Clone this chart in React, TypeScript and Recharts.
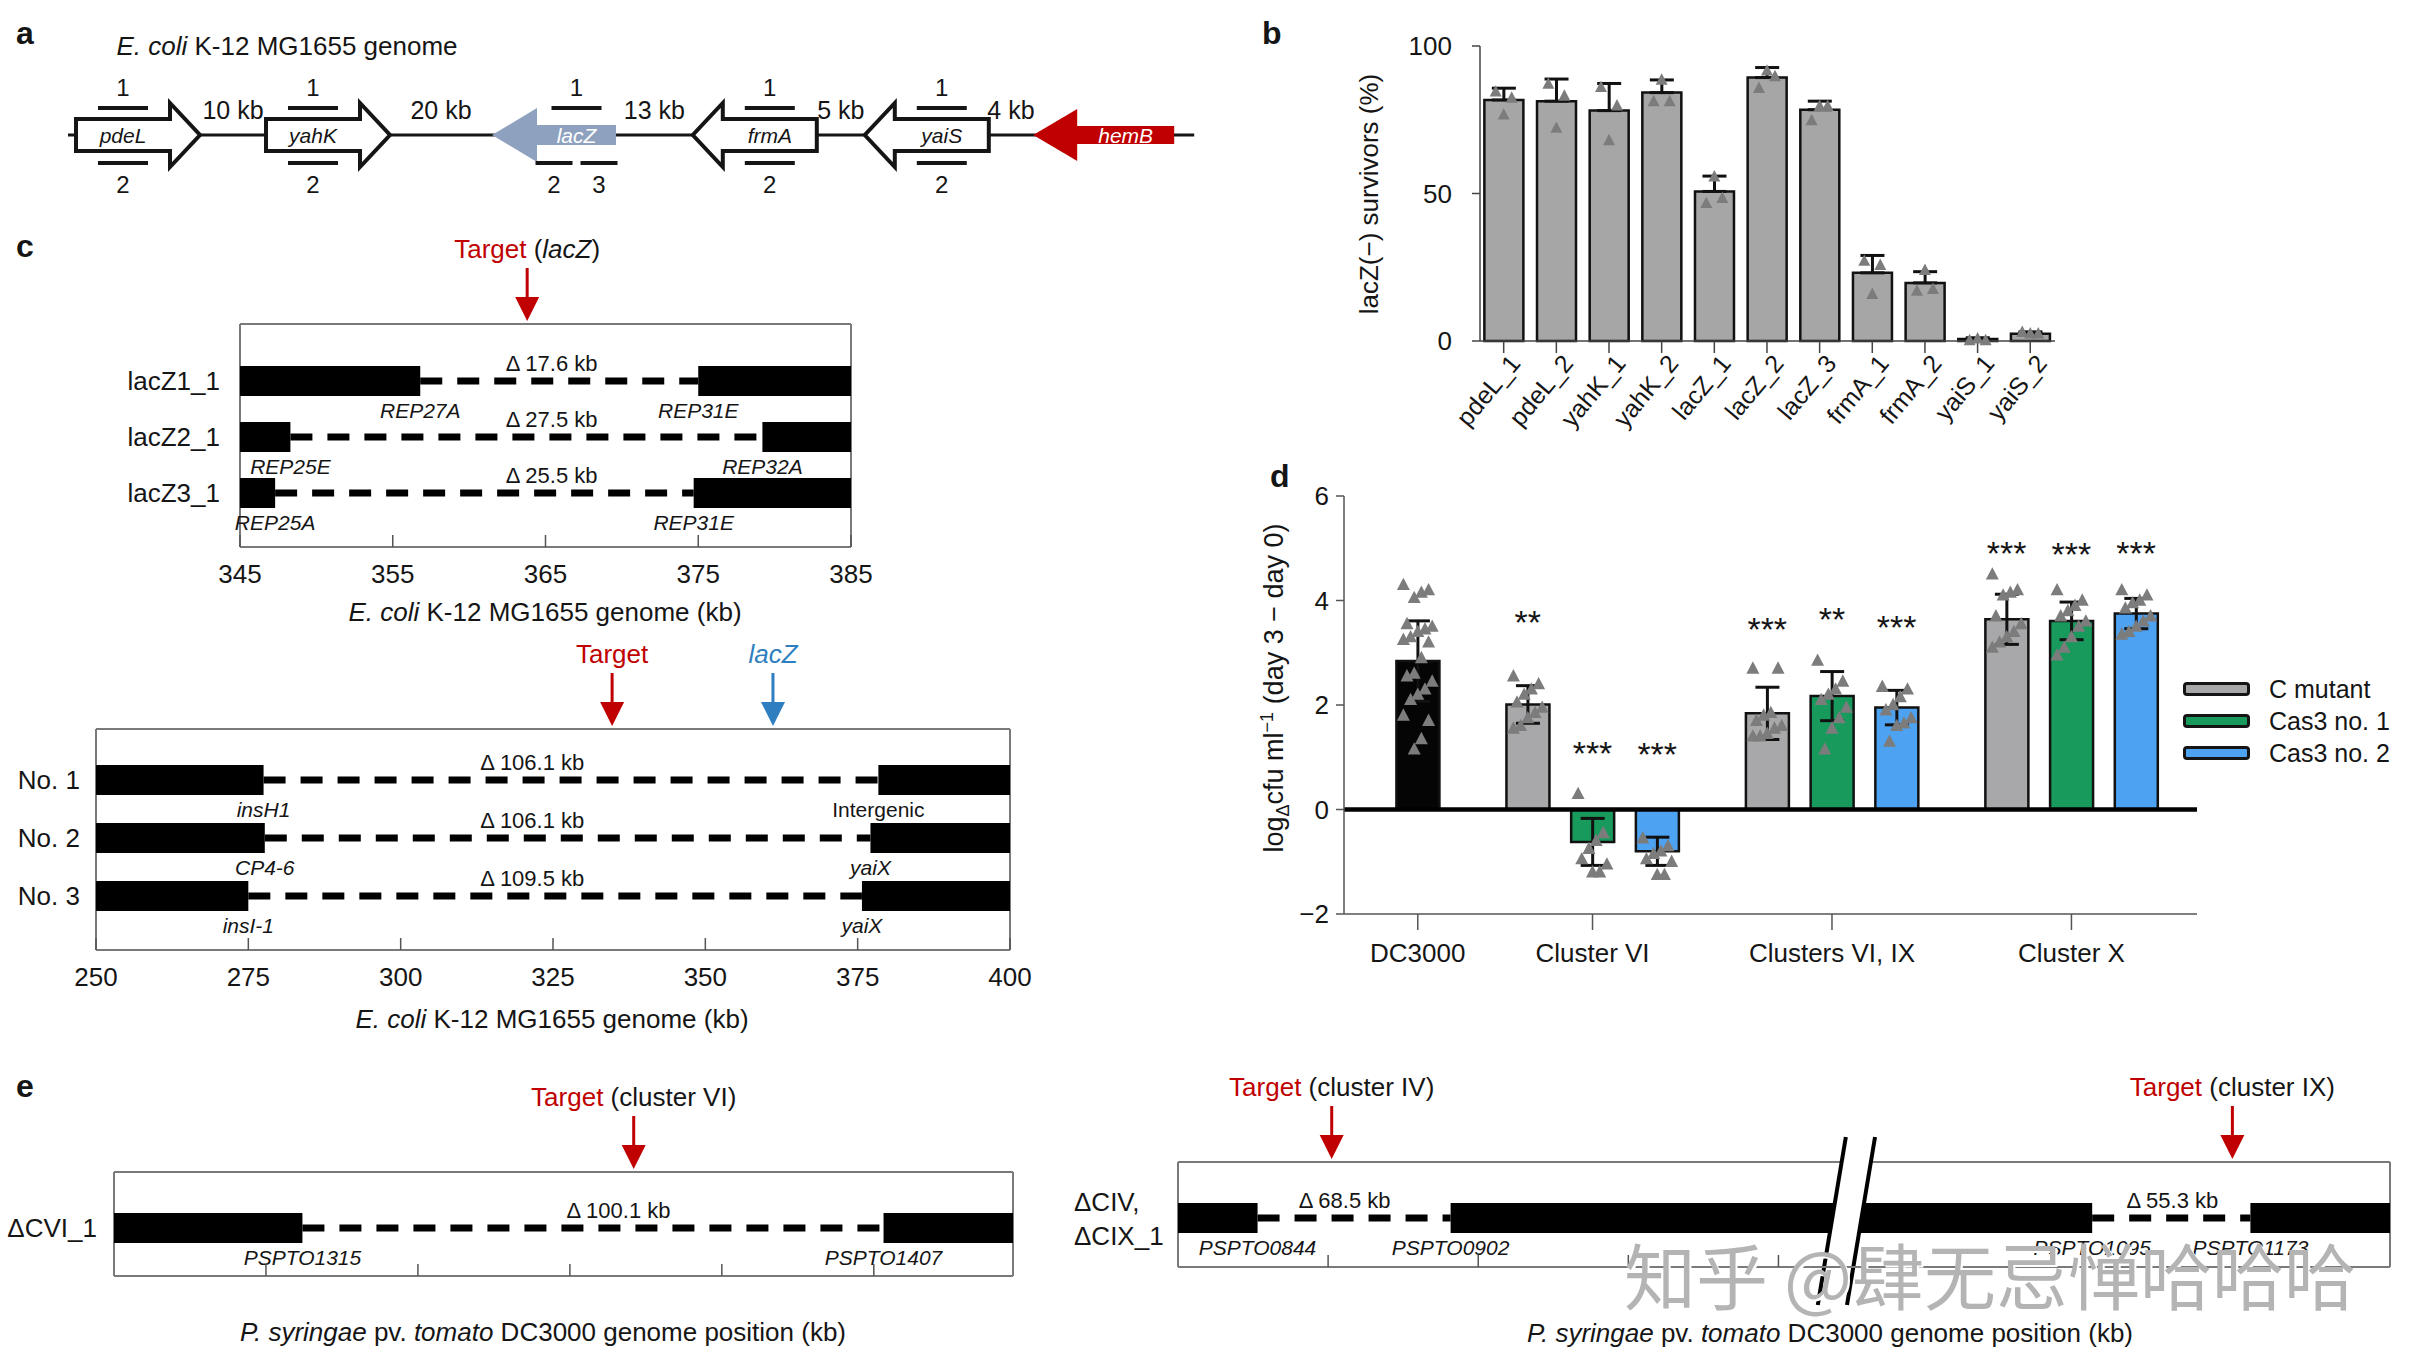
import React from "react";
import {
  ComposedChart,
  Bar,
  Scatter,
  XAxis,
  YAxis,
  ErrorBar,
  Cell,
  ReferenceLine,
  CartesianGrid,
  Legend,
} from "recharts";

const FONT = '"Liberation Sans", Arial, Helvetica, sans-serif';
const INK = "#151515";
const RED = "#c00000";
const BLUE = "#2f7fc0";
const BOX = "#7a7a7a";
const DOT = "#7c7c7c";

// ---- panel a: gene map ----
const geneNames = ["pdeL", "yahK", "lacZ", "frmA", "yaiS", "hemB"];
const geneStrand = [1, 1, -1, -1, -1, -1];
const geneGuides = [["1", "2"], ["1", "2"], ["1", "2", "3"], ["1", "2"], ["1", "2"], []];
const spacerKb = [10, 20, 13, 5, 4];

// ---- panel b: lacZ(-) survivors ----
const survivalStrains = ["pdeL_1", "pdeL_2", "yahK_1", "yahK_2", "lacZ_1", "lacZ_2", "lacZ_3", "frmA_1", "frmA_2", "yaiS_1", "yaiS_2"];
const survivalMean = [81.7, 81.3, 78.1, 84.2, 50.7, 89.3, 78.4, 23.1, 19.7, 0.7, 2.5];
const survivalSd = [4.0, 7.5, 9.2, 4.3, 5.2, 3.4, 2.9, 5.9, 3.8, 0.4, 0.6];
const survivalReps = [
  [84.5, 82.4, 76.7],
  [87.1, 83.1, 72.2],
  [86.0, 79.8, 68.0],
  [81.2, 81.2, 88.5],
  [46.7, 48.4, 55.7],
  [85.7, 89.7, 91.6],
  [74.8, 79.6, 79.6],
  [27.1, 25.7, 15.9],
  [17.0, 17.6, 24.0],
  [0.2, 0.2, 0.8],
  [3.0, 2.5, 2.5],
];

// ---- panel d: in planta growth ----
const infectionGroups = ["DC3000", "Cluster VI", "Clusters VI, IX", "Cluster X"];
const strainSeries = ["C mutant", "Cas3 no. 1", "Cas3 no. 2"];
const wildTypeMean = 2.84;
const wildTypeSd = 0.77;
const wildTypeReps = [4.3, 4.2, 4.15, 4.05, 3.55, 3.5, 3.45, 3.4, 3.3, 3.25, 3.2, 2.9, 2.6, 2.55, 2.45, 2.3, 2.2, 2.1, 1.8, 1.7, 1.35, 1.15];
// rows = cluster groups, columns = strainSeries
const mutantMean = [
  [2.01, -0.62, -0.8],
  [1.84, 2.17, 1.95],
  [3.64, 3.61, 3.75],
];
const mutantSd = [
  [0.36, 0.45, 0.27],
  [0.5, 0.47, 0.33],
  [0.48, 0.36, 0.29],
];
const mutantReps = [
  [
    [2.55, 2.4, 2.3, 2.2, 2.05, 1.95, 1.85, 1.75, 1.6, 1.55],
    [0.3, -0.45, -0.6, -0.75, -0.95, -1.05, -1.2, -1.2],
    [-0.55, -0.7, -0.8, -0.85, -0.95, -1.0, -1.25, -1.25],
  ],
  [
    [2.7, 2.7, 1.85, 1.8, 1.7, 1.6, 1.55, 1.45, 1.4, 1.4],
    [2.85, 2.45, 2.3, 2.2, 2.1, 1.95, 1.75, 1.55, 1.15],
    [2.35, 2.3, 2.15, 2.0, 1.9, 1.75, 1.65, 1.6, 1.3],
  ],
  [
    [4.5, 4.2, 4.15, 4.1, 3.7, 3.55, 3.4, 3.3, 3.2, 3.1],
    [4.2, 4.0, 3.9, 3.8, 3.7, 3.6, 3.5, 3.3, 3.1, 2.95],
    [4.2, 4.1, 4.0, 3.95, 3.85, 3.7, 3.6, 3.5, 3.4, 3.35],
  ],
];
const mutantStars = [
  ["**", "***", "***"],
  ["***", "**", "***"],
  ["***", "***", "***"],
];
const starLevel = [
  [3.72, 1.22, 1.19],
  [3.59, 3.78, 3.63],
  [5.05, 5.03, 5.05],
];

// ---- panel c: lacZ deletions ----
const lacZStrains = ["lacZ1_1", "lacZ2_1", "lacZ3_1"];
const lacZLeftEnd = [356.8, 348.3, 347.3];
const lacZRightStart = [375.0, 379.2, 374.7];
const lacZDeleted = ["17.6", "27.5", "25.5"];
const lacZLeftGene = ["REP27A", "REP25E", "REP25A"];
const lacZRightGene = ["REP31E", "REP32A", "REP31E"];
const lacZWindow = [345, 385];
const lacZTicks = [345, 355, 365, 375, 385];

const wideStrains = ["No. 1", "No. 2", "No. 3"];
const wideLeftEnd = [277.5, 277.7, 275.0];
const wideRightStart = [378.4, 377.1, 375.7];
const wideDeleted = ["106.1", "106.1", "109.5"];
const wideLeftGene = ["insH1", "CP4-6", "insI-1"];
const wideRightGene = ["Intergenic", "yaiX", "yaiX"];
const wideWindow = [250, 400];
const wideTicks = [250, 275, 300, 325, 350, 375, 400];

// ---- panel e: P. syringae deletions ----
const cviWindow = [0, 147.9];
const cviTicks = [25, 50, 75, 100, 125];
const cviBlocks = [[0, 31.0], [126.6, 147.9]];
const cviDeleted = ["100.1"];
const cviGenes = ["PSPTO1315", "PSPTO1407"];

const civWindow = [0, 403.7];
const civTicks = [50, 100, 150, 200];
const civBlocks = [[0, 26.5], [90.8, 304.5], [357.2, 403.7]];
const civDeleted = ["68.5", "55.3"];
const civGenes = ["PSPTO0844", "PSPTO0902", "PSPTO1095", "PSPTO1173"];
const civBreak = 223;

// ---------------- helpers ----------------
const Txt = ({ x, y, size = 25, anchor = "middle", rotate = 0, bold = false, color = INK, children, style }: any) => {
  const tx = anchor === "middle" ? "-50%" : anchor === "end" ? "-100%" : "0%";
  return (
    <div
      style={{
        position: "absolute",
        left: x,
        top: y,
        transform: `translate(${tx}, -50%) rotate(${rotate}deg)`,
        fontSize: size,
        fontWeight: bold ? 700 : 400,
        color,
        whiteSpace: "nowrap",
        lineHeight: 1,
        ...style,
      }}
    >
      {children}
    </div>
  );
};

const tri = (cx: number, cy: number, s: number, fill: string) => (
  <path d={`M${cx},${cy - s * 0.55} L${cx + s / 2},${cy + s * 0.4} L${cx - s / 2},${cy + s * 0.4} Z`} fill={fill} />
);

// ---------------- panel a ----------------
const GENE_STYLE: any = {
  default: { len: 124, fill: "#fff", stroke: INK, text: INK, bodyH: 16, headH: 32, headL: 30 },
  lacZ: { len: 124, fill: "#8ea2bf", stroke: "none", text: "#fff", bodyH: 10, headH: 27, headL: 45 },
  hemB: { len: 141, fill: "#c00000", stroke: "none", text: "#fff", bodyH: 9, headH: 26, headL: 44 },
};
const geneStyle = (name: string) => GENE_STYLE[name] || GENE_STYLE.default;

const GeneArrow = (p: any) => {
  const { cx, cy, payload: g } = p;
  const st = geneStyle(g.name);
  const s = g.strand;
  const half = st.len / 2;
  const tail = cx - s * half;
  const tip = cx + s * half;
  const base = tip - s * st.headL;
  const b = st.bodyH;
  const h = st.headH;
  const d = `M${tail},${cy - b} L${base},${cy - b} L${base},${cy - h} L${tip},${cy} L${base},${cy + h} L${base},${cy + b} L${tail},${cy + b} Z`;
  const mid = (tail + base) / 2;
  const [top, ...bottom] = g.guides;
  return (
    <g>
      <path d={d} fill={st.fill} stroke={st.stroke} strokeWidth={st.stroke === "none" ? 0 : 4} />
      <text x={mid} y={cy} textAnchor="middle" dominantBaseline="central" fontSize={21} fontStyle="italic" fill={st.text}>
        {g.name}
      </text>
      {top && (
        <g>
          <line x1={mid - 25} x2={mid + 25} y1={cy - 27} y2={cy - 27} stroke={INK} strokeWidth={4} />
          <text x={mid} y={cy - 48} textAnchor="middle" dominantBaseline="central" fontSize={24} fill={INK}>
            {top}
          </text>
        </g>
      )}
      {bottom.map((lab: string, i: number) => {
        const w = bottom.length > 1 ? 37 : 50;
        const c = mid + (i - (bottom.length - 1) / 2) * 45;
        return (
          <g key={lab}>
            <line x1={c - w / 2} x2={c + w / 2} y1={cy + 28} y2={cy + 28} stroke={INK} strokeWidth={4} />
            <text x={c} y={cy + 49} textAnchor="middle" dominantBaseline="central" fontSize={24} fill={INK}>
              {lab}
            </text>
          </g>
        );
      })}
    </g>
  );
};

const SpacerLabel = (p: any) => (
  <text x={p.cx} y={p.cy - 25} textAnchor="middle" dominantBaseline="central" fontSize={25} fill={INK}>
    {p.payload.label}
  </text>
);

const GeneMap = () => {
  const genes: any[] = [];
  const spacers: any[] = [];
  let left = 76;
  geneNames.forEach((name, i) => {
    const len = geneStyle(name).len;
    genes.push({ x: left + len / 2, y: 0, name, strand: geneStrand[i], guides: geneGuides[i] });
    const right = left + len;
    if (i < spacerKb.length) {
      const gap = 30 + 3.6 * spacerKb[i];
      spacers.push({ x: right + gap / 2, y: 0, label: `${spacerKb[i]} kb` });
      left = right + gap;
    } else {
      left = right;
    }
  });
  const trackStart = 76 - 8;
  const trackEnd = left + 20;
  return (
    <div style={{ position: "absolute", left: 0, top: 55 }}>
      <ComposedChart width={1250} height={160} margin={{ top: 0, right: 0, bottom: 0, left: 0 }}>
        <XAxis type="number" dataKey="x" domain={[0, 1250]} hide />
        <YAxis type="number" domain={[-1, 1]} hide />
        <ReferenceLine segment={[{ x: trackStart, y: 0 }, { x: trackEnd, y: 0 }]} stroke={INK} strokeWidth={3} />
        <Scatter data={genes} dataKey="y" shape={GeneArrow} isAnimationActive={false} />
        <Scatter data={spacers} dataKey="y" shape={SpacerLabel} isAnimationActive={false} />
      </ComposedChart>
    </div>
  );
};

// ---------------- panel b ----------------
const survivalData = survivalStrains.map((strain, i) => ({ x: i, strain, value: survivalMean[i], err: [0, survivalSd[i]] }));
const survivalPoints = survivalReps.flatMap((reps, i) => reps.map((v, k) => ({ x: i, y: v, k })));
const JITTER_B = [-8, 8, 0];

const RotTick = (p: any) => {
  const ax = p.x + 18;
  const ay = p.y + 9;
  return (
    <text x={ax} y={ay} transform={`rotate(-50 ${ax} ${ay})`} textAnchor="end" fontSize={25} fill={INK}>
      {survivalStrains[p.payload.value]}
    </text>
  );
};

const SurvivalChart = () => (
  <div style={{ position: "absolute", left: 1290, top: 0 }}>
    <ComposedChart width={790} height={520} data={survivalData} margin={{ top: 46, right: 25, left: 0, bottom: 29 }}>
      <XAxis
        type="number"
        dataKey="x"
        domain={[-0.45, 10.47]}
        ticks={survivalStrains.map((_, i) => i)}
        interval={0}
        height={150}
        tickSize={12}
        axisLine={{ stroke: "#444", strokeWidth: 1.5 }}
        tickLine={{ stroke: "#444", strokeWidth: 1.5 }}
        tick={RotTick}
      />
      <YAxis
        type="number"
        domain={[0, 100]}
        ticks={[0, 50, 100]}
        width={190}
        tickSize={8}
        tickMargin={20}
        axisLine={{ stroke: "#444", strokeWidth: 1.5 }}
        tickLine={{ stroke: "#444", strokeWidth: 1.5 }}
        tick={{ fontSize: 26, fill: INK }}
      />
      <Bar dataKey="value" barSize={39} fill="#a6a6a6" stroke="#111" strokeWidth={2.5} isAnimationActive={false}>
        <ErrorBar dataKey="err" width={12} stroke="#111" strokeWidth={3} />
      </Bar>
      <Scatter
        data={survivalPoints}
        dataKey="y"
        isAnimationActive={false}
        shape={(p: any) => tri(p.cx + JITTER_B[p.payload.k % 3], p.cy, 12, DOT)}
      />
    </ComposedChart>
  </div>
);

// ---------------- panel d ----------------
const GROUP_GAP = 0.7;
const seriesColor: any = { wt: "#050505", "C mutant": "#a8a8aa", "Cas3 no. 1": "#189a5c", "Cas3 no. 2": "#4ea2f2" };

const infBars: any[] = [];
const groupTicks: number[] = [];
(() => {
  let slot = 0;
  infBars.push({ x: slot, mean: wildTypeMean, err: [wildTypeSd, wildTypeSd], color: seriesColor.wt, reps: wildTypeReps });
  groupTicks.push(slot);
  slot += 1 + GROUP_GAP;
  mutantMean.forEach((row, g) => {
    const first = slot;
    row.forEach((m, s) => {
      infBars.push({
        x: slot,
        mean: m,
        err: [mutantSd[g][s], mutantSd[g][s]],
        color: seriesColor[strainSeries[s]],
        reps: mutantReps[g][s],
        stars: mutantStars[g][s],
        starAt: starLevel[g][s],
      });
      slot += 1;
    });
    groupTicks.push((first + slot - 1) / 2);
    slot += GROUP_GAP;
  });
})();
const infPoints = infBars.flatMap((b) => b.reps.map((v: number, k: number) => ({ x: b.x, y: v, k })));
const starRows = infBars.filter((b) => b.stars).map((b) => ({ x: b.x, y: b.starAt, label: b.stars }));
const jitterD = (k: number) => (((k * 7) % 9) - 4) * 3.6;

const InfLegend = () => (
  <div>
    {strainSeries.map((s) => (
      <div key={s} style={{ display: "flex", alignItems: "center", height: 32 }}>
        <div
          style={{
            width: 61,
            height: 8,
            border: `3px solid ${INK}`,
            borderRadius: 4,
            background: seriesColor[s],
            marginRight: 19,
          }}
        />
        <span style={{ fontSize: 25, color: INK, lineHeight: 1 }}>{s}</span>
      </div>
    ))}
  </div>
);

const InfectionChart = () => (
  <div style={{ position: "absolute", left: 1240, top: 440 }}>
    <ComposedChart width={1177} height={560} data={infBars} margin={{ top: 56, right: 220, left: 0, bottom: 10 }}>
      <XAxis
        type="number"
        dataKey="x"
        domain={[-1.14, 12.04]}
        ticks={groupTicks}
        interval={0}
        tickFormatter={(v: number) => infectionGroups[groupTicks.indexOf(v)] || ""}
        height={76}
        tickSize={16}
        tickMargin={14}
        axisLine={{ stroke: "#555", strokeWidth: 1.5 }}
        tickLine={{ stroke: "#555", strokeWidth: 1.5 }}
        tick={{ fontSize: 26, fill: INK }}
      />
      <YAxis
        type="number"
        domain={[-2, 6]}
        ticks={[-2, 0, 2, 4, 6]}
        tickFormatter={(v: number) => (v < 0 ? `\u2212${-v}` : `${v}`)}
        width={104}
        tickSize={8}
        tickMargin={7}
        axisLine={{ stroke: "#555", strokeWidth: 1.5 }}
        tickLine={{ stroke: "#555", strokeWidth: 1.5 }}
        tick={{ fontSize: 26, fill: INK }}
      />
      <Bar dataKey="mean" barSize={43} stroke="#111" strokeWidth={2.5} isAnimationActive={false}>
        {infBars.map((b, i) => (
          <Cell key={i} fill={b.color} />
        ))}
        <ErrorBar dataKey="err" width={12} stroke="#111" strokeWidth={3} />
      </Bar>
      <ReferenceLine y={0} stroke="#000" strokeWidth={4.5} />
      <Scatter
        data={infPoints}
        dataKey="y"
        isAnimationActive={false}
        shape={(p: any) => tri(p.cx + jitterD(p.payload.k), p.cy, 13, DOT)}
      />
      <Scatter
        data={starRows}
        dataKey="y"
        isAnimationActive={false}
        shape={(p: any) => (
          <text x={p.cx} y={p.cy + 19} textAnchor="middle" fontSize={34} fill={INK}>
            {p.payload.label}
          </text>
        )}
      />
      <Legend
        layout="vertical"
        align="center"
        verticalAlign="middle"
        content={InfLegend}
        wrapperStyle={{ left: 943, top: 233, width: 240 }}
      />
    </ComposedChart>
  </div>
);

// ---------------- panels c, e: deletion maps ----------------
const RowShape = (p: any) => {
  const { x, y, width, height, payload } = p;
  if (width == null || !payload) return null;
  const [d0, d1] = payload.span;
  const px = (v: number) => x + ((v - d0) / (d1 - d0)) * width;
  const cy = y + height / 2;
  const blocks = payload.blocks;
  const anchors: number[] = [];
  blocks.slice(1).forEach((b: number[], i: number) => anchors.push(blocks[i][1], b[0]));
  return (
    <g>
      {blocks.slice(1).map((b: number[], i: number) => (
        <line key={"g" + i} x1={px(blocks[i][1])} x2={px(b[0])} y1={cy} y2={cy} stroke="#000" strokeWidth={7} strokeDasharray="22 15" />
      ))}
      {blocks.map((b: number[], i: number) => (
        <rect key={"b" + i} x={px(b[0])} y={y} width={px(b[1]) - px(b[0])} height={height} fill="#000" />
      ))}
      {payload.deleted.map((d: string, i: number) => (
        <text key={"d" + i} x={px(payload.deltaAt[i])} y={cy - 18} textAnchor="middle" dominantBaseline="central" fontSize={22} fill={INK}>
          {"\u0394 " + d + " kb"}
        </text>
      ))}
      {payload.genes.map((gname: string, i: number) => (
        <text
          key={"n" + i}
          x={px(anchors[i])}
          y={cy + 29}
          textAnchor="middle"
          dominantBaseline="central"
          fontSize={21}
          fontStyle={gname === "Intergenic" ? "normal" : "italic"}
          fill={INK}
        >
          {gname}
        </text>
      ))}
    </g>
  );
};

const TargetMark = (p: any) => {
  const { x1, y1, y2, t } = p;
  const top = Math.min(y1, y2);
  const color = t.kind === "lacZ" ? BLUE : RED;
  return (
    <g>
      <line x1={x1} x2={x1} y1={top - 56} y2={top - 22} stroke={color} strokeWidth={3} />
      <path d={`M${x1 - 12},${top - 27} L${x1 + 12},${top - 27} L${x1},${top - 3} Z`} fill={color} />
      <text x={x1} y={top - 75} textAnchor="middle" dominantBaseline="central" fontSize={26} fill={INK}>
        {t.kind === "lacZ" ? (
          <tspan fill={BLUE} fontStyle="italic">
            lacZ
          </tspan>
        ) : (
          <>
            <tspan fill={RED}>Target</tspan>
            {t.note ? <tspan>{" ("}</tspan> : null}
            {t.note ? <tspan fontStyle={t.italic ? "italic" : "normal"}>{t.note}</tspan> : null}
            {t.note ? <tspan>{")"}</tspan> : null}
          </>
        )}
      </text>
    </g>
  );
};

const BreakMark = (p: any) => {
  const { x1, y1, y2 } = p;
  const top = Math.min(y1, y2) - 25;
  const bot = Math.max(y1, y2) + 38;
  const mid = (y1 + y2) / 2;
  const k = 0.167;
  const h = 14.6;
  const at = (yy: number, off: number) => x1 + off - k * (yy - mid);
  return (
    <g>
      <path d={`M${at(top, -h)},${top} L${at(top, h)},${top} L${at(bot, h)},${bot} L${at(bot, -h)},${bot} Z`} fill="#fff" />
      <line x1={at(top, -h)} y1={top} x2={at(bot, -h)} y2={bot} stroke="#000" strokeWidth={4} />
      <line x1={at(top, h)} y1={top} x2={at(bot, h)} y2={bot} stroke="#000" strokeWidth={4} />
    </g>
  );
};

const boxRows = ({ offset }: any) => [offset.top, offset.top + offset.height];
const boxCols = ({ offset }: any) => [offset.left, offset.left + offset.width];
const NoTick = () => <g />;

const TwoLineTick = (p: any) => {
  const lines = String(p.payload.value).split("\n");
  return (
    <text fontSize={26} fill={INK}>
      {lines.map((l, i) => (
        <tspan key={i} x={14} y={p.y - 16 + i * 34} dominantBaseline="central">
          {l}
        </tspan>
      ))}
    </text>
  );
};

const DeletionMap = ({ left, top, width, height, marginTop, marginRight, yWidth, xHeight, labelGap, pad, window, ticks, tickLabels, rows, targets, breakAt, rowTick }: any) => {
  const data = rows.map((r: any) => ({ ...r, span: window }));
  return (
    <div style={{ position: "absolute", left, top }}>
      <ComposedChart layout="vertical" width={width} height={height} data={data} margin={{ top: marginTop, right: marginRight, left: 0, bottom: 0 }}>
        <CartesianGrid stroke={BOX} strokeWidth={2} horizontalCoordinatesGenerator={boxRows} verticalCoordinatesGenerator={boxCols} />
        <XAxis
          type="number"
          domain={window}
          ticks={ticks}
          interval={0}
          height={xHeight}
          tickSize={-12}
          tickMargin={30}
          axisLine={{ stroke: BOX, strokeWidth: 2 }}
          tickLine={{ stroke: "#555", strokeWidth: 1.5 }}
          tick={tickLabels ? { fontSize: 26, fill: INK } : NoTick}
        />
        <YAxis
          type="category"
          dataKey="name"
          width={yWidth}
          axisLine={false}
          tickLine={false}
          tickSize={0}
          tickMargin={labelGap}
          padding={pad}
          tick={rowTick || { fontSize: 26, fill: INK }}
        />
        <Bar dataKey="span" barSize={30} shape={RowShape} isAnimationActive={false} />
        {targets.map((t: any, i: number) => (
          <ReferenceLine key={i} x={t.at} stroke="none" shape={(lp: any) => <TargetMark {...lp} t={t} />} />
        ))}
        {breakAt != null && <ReferenceLine x={breakAt} stroke="none" shape={(lp: any) => <BreakMark {...lp} />} />}
      </ComposedChart>
    </div>
  );
};

const lacZRows = lacZStrains.map((name, i) => ({
  name,
  blocks: [[lacZWindow[0], lacZLeftEnd[i]], [lacZRightStart[i], lacZWindow[1]]],
  deleted: [lacZDeleted[i]],
  deltaAt: [365.4],
  genes: [lacZLeftGene[i], lacZRightGene[i]],
}));
const wideRows = wideStrains.map((name, i) => ({
  name,
  blocks: [[wideWindow[0], wideLeftEnd[i]], [wideRightStart[i], wideWindow[1]]],
  deleted: [wideDeleted[i]],
  deltaAt: [321.6],
  genes: [wideLeftGene[i], wideRightGene[i]],
}));
const cviRows = [{ name: "\u0394CVI_1", blocks: cviBlocks, deleted: cviDeleted, deltaAt: [83], genes: cviGenes }];
const civRows = [{ name: "\u0394CIV,\n\u0394CIX_1", blocks: civBlocks, deleted: civDeleted, deltaAt: [55.5, 331.2], genes: civGenes }];

const GenomeTitle = () => (
  <span>
    <i>E. coli</i> K-12 MG1655 genome (kb)
  </span>
);
const PstTitle = () => (
  <span>
    <i>P. syringae</i> pv. <i>tomato</i> DC3000 genome position (kb)
  </span>
);

export default function App() {
  return (
    <div
      style={{
        position: "absolute",
        left: 0,
        top: 0,
        width: 2417,
        height: 1371,
        background: "#fff",
        overflow: "hidden",
        fontFamily: FONT,
        color: INK,
      }}
    >
      {/* panel letters */}
      <Txt x={16} y={33} size={32} bold anchor="start">a</Txt>
      <Txt x={1262} y={33} size={32} bold anchor="start">b</Txt>
      <Txt x={16} y={246} size={32} bold anchor="start">c</Txt>
      <Txt x={1270} y={476} size={32} bold anchor="start">d</Txt>
      <Txt x={16} y={1086} size={32} bold anchor="start">e</Txt>

      {/* a */}
      <Txt x={287} y={46} size={26}>
        <i>E. coli</i> K-12 MG1655 genome
      </Txt>
      <GeneMap />

      {/* b */}
      <SurvivalChart />
      <Txt x={1369} y={194} size={26} rotate={-90}>
        lacZ(−) survivors (%)
      </Txt>

      {/* c */}
      <DeletionMap
        left={0}
        top={230}
        width={900}
        height={400}
        marginTop={94}
        marginRight={49}
        yWidth={240}
        xHeight={83}
        labelGap={20}
        pad={{ top: 29, bottom: 26 }}
        window={lacZWindow}
        ticks={lacZTicks}
        tickLabels
        rows={lacZRows}
        targets={[{ at: 363.8, kind: "target", note: "lacZ", italic: true }]}
      />
      <Txt x={545} y={612} size={26}>
        <GenomeTitle />
      </Txt>
      <DeletionMap
        left={0}
        top={620}
        width={1060}
        height={420}
        marginTop={109}
        marginRight={50}
        yWidth={96}
        xHeight={90}
        labelGap={16}
        pad={{ top: 22, bottom: 25 }}
        window={wideWindow}
        ticks={wideTicks}
        tickLabels
        rows={wideRows}
        targets={[
          { at: 334.7, kind: "target" },
          { at: 361.1, kind: "lacZ" },
        ]}
      />
      <Txt x={552} y={1019} size={26}>
        <GenomeTitle />
      </Txt>

      {/* d */}
      <InfectionChart />
      <Txt x={1275} y={688} size={27} rotate={-90}>
        log<sub style={{ fontSize: 18 }}>Δ</sub>cfu ml<sup style={{ fontSize: 18 }}>−1</sup> (day 3 − day 0)
      </Txt>

      {/* e */}
      <DeletionMap
        left={0}
        top={1060}
        width={1060}
        height={311}
        marginTop={112}
        marginRight={47}
        yWidth={114}
        xHeight={95}
        labelGap={17}
        pad={{ top: 26, bottom: 18 }}
        window={cviWindow}
        ticks={cviTicks}
        tickLabels={false}
        rows={cviRows}
        targets={[{ at: 85.5, kind: "target", note: "cluster VI" }]}
      />
      <Txt x={543} y={1332} size={26}>
        <PstTitle />
      </Txt>
      <DeletionMap
        left={1060}
        top={1060}
        width={1357}
        height={311}
        marginTop={102}
        marginRight={27}
        yWidth={118}
        xHeight={104}
        labelGap={10}
        pad={{ top: 26, bottom: 19 }}
        window={civWindow}
        ticks={civTicks}
        tickLabels={false}
        rows={civRows}
        rowTick={TwoLineTick}
        breakAt={civBreak}
        targets={[
          { at: 51.2, kind: "target", note: "cluster IV" },
          { at: 351.2, kind: "target", note: "cluster IX" },
        ]}
      />
      <Txt x={1830} y={1333} size={26}>
        <PstTitle />
      </Txt>

      {/* watermark */}
      <Txt
        x={1990}
        y={1273}
        size={72}
        color="#b4b4b4"
        style={{ fontFamily: '"Noto Sans CJK SC", sans-serif', textShadow: "2px 2px 0 #fff" }}
      >
        知乎 @肆无忌惮哈哈哈
      </Txt>
    </div>
  );
}
